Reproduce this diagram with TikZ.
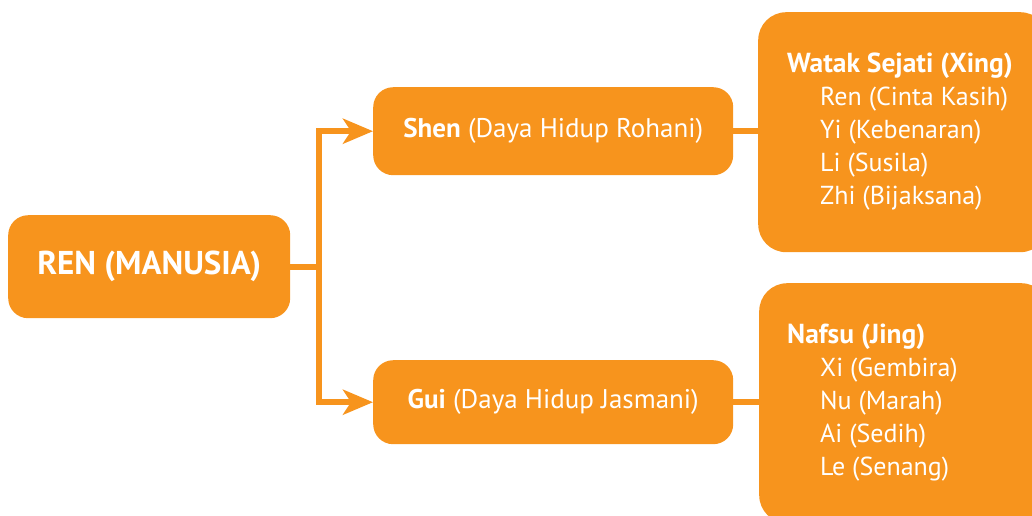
\documentclass[tikz,border=0pt]{standalone}
\usepackage{fontspec}
\setmainfont{PT Sans}
\usetikzlibrary{arrows.meta}
\definecolor{jingga}{HTML}{F7941D}
\newcommand\judul[1]{{\fontsize{27.5}{33}\selectfont\bfseries #1}}

\begin{document}
\begin{tikzpicture}[
    x=1pt, y=-1pt,
    every node/.style={text=white, inner sep=0pt},
    kotak/.style={rectangle, rounded corners=20pt, fill=jingga, anchor=north west},
    isi/.style={anchor=north west, align=left, font=\fontsize{26}{33}\selectfont},
    garis/.style={draw=jingga, line width=6pt},
    panah/.style={garis, -{Stealth[length=30pt, width=25pt, inset=8pt]}}
  ]
  \useasboundingbox (0,0) rectangle (1032,515);
  % kotak utama dan dua cabang
  \node (ren) [kotak, minimum width=282pt, minimum height=103pt,
    font=\fontsize{33}{38}\selectfont\bfseries] at (8,215) {REN (MANUSIA)};
  \node (shen) [kotak, minimum width=360pt, minimum height=88pt,
    font=\fontsize{27}{32}\selectfont] at (373,87) {\textbf{Shen} (Daya Hidup Rohani)};
  \node (gui) [kotak, minimum width=360pt, minimum height=84pt,
    font=\fontsize{27}{32}\selectfont] at (373,360) {\textbf{Gui} (Daya Hidup Jasmani)};
  % kotak kanan, terpotong di tepi
  \node (watak) [kotak, rounded corners=28pt, minimum width=290pt, minimum height=240pt] at (758,12) {};
  \node (nafsu) [kotak, rounded corners=28pt, minimum width=290pt, minimum height=240pt] at (759,283) {};
  \node (watak_isi) [isi] at (787,53) {\judul{Watak Sejati (Xing)}\\
    \hspace*{33pt}Ren (Cinta Kasih)\\
    \hspace*{33pt}Yi (Kebenaran)\\
    \hspace*{33pt}Li (Susila)\\
    \hspace*{33pt}Zhi (Bijaksana)};
  \node (nafsu_isi) [isi] at (787,324) {\judul{Nafsu (Jing)}\\
    \hspace*{33pt}Xi (Gembira)\\
    \hspace*{33pt}Nu (Marah)\\
    \hspace*{33pt}Ai (Sedih)\\
    \hspace*{33pt}Le (Senang)};
  % penghubung
  \coordinate (cabang) at (319,0);
  \draw[garis] (ren.east) -- (ren.east -| cabang);
  \draw[panah] (ren.east -| cabang) |- (shen.west);
  \draw[panah] (ren.east -| cabang) |- (gui.west);
  \draw[garis] (shen.east) -- (shen.east -| watak.west);
  \draw[garis] (gui.east) -- (gui.east -| nafsu.west);
\end{tikzpicture}
\end{document}
